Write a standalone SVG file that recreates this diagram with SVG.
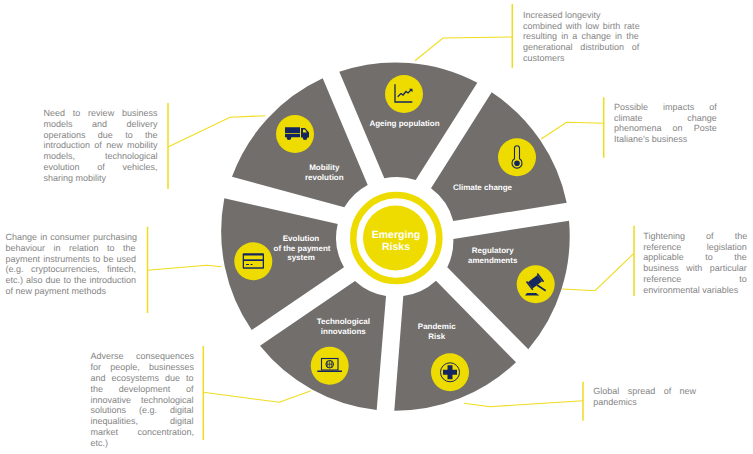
<svg xmlns="http://www.w3.org/2000/svg" width="753" height="454" viewBox="0 0 753 454">
<style>
text{text-rendering:geometricPrecision}
.seg{fill:#716e6c}
.dot{fill:#eedc00}
.lbl{font:bold 8px "Liberation Sans",Arial,sans-serif;fill:#fff;text-anchor:middle}
.t{font:9px "Liberation Sans",Arial,sans-serif;fill:#858585}
.c{fill:none;stroke:#f0dc1e;stroke-width:1.1}
.b{fill:none;stroke:#f0dc1e;stroke-width:1.5}
.n{fill:#14265f}
.ns{fill:none;stroke:#14265f}
</style>
<rect width="753" height="454" fill="#fff"/>
<g id="connectors">
<path class="b" d="M168 103V189M147.500 226.700V313M203.300 346V440M512.300 4V67.700M603.700 97.300V157.700M634 225.700V296M583 381.700V420.700"/>
<path class="c" d="M168.500 146.700L230 117.300L265.700 115.700"/>
<path class="c" d="M147.500 270.300L206.700 265.300L221.700 266.700"/>
<path class="c" d="M203.300 392.300L279.300 402.300L311 390.700"/>
<path class="c" d="M415 60.700L443 38L512 37"/>
<path class="c" d="M541 139L566.700 122.300L603.700 123.300"/>
<path class="c" d="M562 289L595 290.700L634 253.300"/>
<path class="c" d="M464 403.300L490 406.700L583 400.700"/>
</g>
<g id="node-center">
<circle cx="396.300" cy="238" r="43" fill="none" stroke="#eedc00" stroke-width="6.500"/>
<circle cx="395.500" cy="238" r="32.500" fill="#eedc00"/>
<text x="396" y="237.700" font-family="Liberation Sans,Arial,sans-serif" font-weight="bold" font-size="10.500" fill="#fff" text-anchor="middle">Emerging</text>
<text x="396" y="249.500" font-family="Liberation Sans,Arial,sans-serif" font-weight="bold" font-size="10.500" fill="#fff" text-anchor="middle">Risks</text>
</g>
<g id="node-mobility">
<path class="seg" d="M322.700 78.300A175 175 0 0 0 232 176.700L344.300 207.300A59 59 0 0 1 367.700 185Z"/>
<circle class="dot" cx="295" cy="134" r="19"/>
<path class="n" d="M285 127.300H300V137.300H285ZM301 128H305L309 132.500V137.500H301Z"/>
<path fill="#eedc00" d="M285 133.200H300V134H285ZM303 129.500H305L306.800 132.500H303Z"/>
<circle class="n" cx="289" cy="137.700" r="2.300"/><circle class="n" cx="305" cy="137.700" r="2.300"/>
<text class="lbl" x="324.300" y="170">Mobility</text><text class="lbl" x="324.300" y="179.700">revolution</text>
<text class="t" x="43.500" y="116" word-spacing="5.300">Need to review business</text>
<text class="t" x="43.500" y="126.800" word-spacing="17">models and delivery</text>
<text class="t" x="43.500" y="137.600" word-spacing="9.800">operations due to the</text>
<text class="t" x="43.500" y="148.400" word-spacing="1.830">introduction of new mobility</text>
<text class="t" x="43.500" y="159.200" word-spacing="27.500">models, technological</text>
<text class="t" x="43.500" y="170" word-spacing="15.200">evolution of vehicles,</text>
<text class="t" x="43.500" y="180.800">sharing mobility</text>
</g>
<g id="node-ageing">
<path class="seg" d="M339.300 71.700A175 175 0 0 1 477.300 82.700L415.700 180A59 59 0 0 0 384.300 178.300Z"/>
<circle class="dot" cx="404" cy="94" r="19"/>
<path class="ns" stroke-width="1.300" d="M395 84.300V102H412.300"/>
<path class="ns" stroke-width="1.300" d="M397.700 96.700L401 93.500L403 95L406 91.500L408 93L411 90"/>
<path class="n" d="M409 88.800H412.500V92.300Z"/>
<text class="lbl" x="404.500" y="126">Ageing population</text>
<text class="t" x="523" y="17.700">Increased longevity</text>
<text class="t" x="523" y="28.500" word-spacing="1.270">combined with low birth rate</text>
<text class="t" x="523" y="39.300" word-spacing="1.630">resulting in a change in the</text>
<text class="t" x="523" y="50.100" word-spacing="5.330">generational distribution of</text>
<text class="t" x="523" y="60.900">customers</text>
</g>
<g id="node-climate">
<path class="seg" d="M491.700 92.300A175 175 0 0 1 566.700 202.700L453.300 221A59 59 0 0 0 431 188.300Z"/>
<circle class="dot" cx="517" cy="157.300" r="19"/>
<path class="ns" stroke-width="1.100" d="M514.500 158.800V148.200A2.500 2.500 0 0 1 519.500 148.200V158.800A5 5 0 1 1 514.500 158.800Z"/>
<circle class="n" cx="517" cy="163.300" r="2.800"/>
<text class="lbl" x="482.500" y="190">Climate change</text>
<text class="t" x="614" y="109.700" word-spacing="12.600">Possible impacts of</text>
<text class="t" x="614" y="120.500" word-spacing="42.200">climate change</text>
<text class="t" x="614" y="131.300" word-spacing="8.570">phenomena on Poste</text>
<text class="t" x="614" y="142.100">Italiane's business</text>
</g>
<g id="node-regulatory">
<path class="seg" d="M569 220.700A175 175 0 0 1 528.300 349.300L447.300 267.300A59 59 0 0 0 453.300 239Z"/>
<circle class="dot" cx="535.700" cy="284.300" r="19"/>
<g transform="rotate(-37 535 281.700)">
<rect class="n" x="529" y="277.800" width="12" height="7.800"/>
<rect class="n" x="527.500" y="276.500" width="1.600" height="10.400"/>
<rect class="n" x="541" y="276.500" width="1.600" height="10.400"/>
</g>
<path class="ns" stroke-width="1.800" d="M537 285L545.700 290.700"/>
<path class="n" d="M525 295.500L527 293H536L539.300 295.500Z"/>
<text class="lbl" x="492.700" y="253.300">Regulatory</text><text class="lbl" x="492.700" y="263">amendments</text>
<text class="t" x="643.300" y="238.700" word-spacing="18.600">Tightening of the</text>
<text class="t" x="643.300" y="249.500" word-spacing="22.900">reference legislation</text>
<text class="t" x="643.300" y="260.300" word-spacing="18.900">applicable to the</text>
<text class="t" x="643.300" y="271.100" word-spacing="4.950">business with particular</text>
<text class="t" x="643.300" y="281.900" word-spacing="55.400">reference to</text>
<text class="t" x="643.300" y="292.700">environmental variables</text>
</g>
<g id="node-pandemic">
<path class="seg" d="M516 362.300A175 175 0 0 1 394.300 410.700L403.300 296A59 59 0 0 0 436 280.700Z"/>
<circle class="dot" cx="450" cy="372.300" r="19"/>
<circle class="ns" cx="450" cy="372.300" r="9.500" stroke-width="1"/>
<path class="n" d="M447.500 365.300H452.500V369.800H457V374.800H452.500V379.300H447.500V374.800H443V369.800H447.500Z"/>
<text class="lbl" x="436.700" y="328.700">Pandemic</text><text class="lbl" x="436.700" y="338.700">Risk</text>
<text class="t" x="593.300" y="394.300" word-spacing="5.900">Global spread of new</text>
<text class="t" x="593.300" y="405">pandemics</text>
</g>
<g id="node-technological">
<path class="seg" d="M355 281A59 59 0 0 0 386 296L376.700 410A175 175 0 0 1 260 345.700Z"/>
<circle class="dot" cx="329.700" cy="365.700" r="19"/>
<rect class="ns" x="321.500" y="358.500" width="16.500" height="11.500" stroke-width="1.100"/>
<path class="n" d="M317.300 370.500H342V372H317.300Z"/>
<circle class="ns" cx="329.700" cy="364.200" r="3.800" stroke-width="1"/>
<path class="ns" stroke-width=".7" d="M325.900 364.200H333.500M329.700 360.400V368M327.700 361V367.400M331.700 361V367.400"/>
<text class="lbl" x="343.300" y="324.300">Technological</text><text class="lbl" x="343.300" y="334">innovations</text>
<text class="t" x="90.500" y="359.300" word-spacing="10">Adverse consequences</text>
<text class="t" x="90.500" y="370.100" word-spacing="6.750">for people, businesses</text>
<text class="t" x="90.500" y="380.900" word-spacing="3.490">and ecosystems due to</text>
<text class="t" x="90.500" y="391.700" word-spacing="13.200">the development of</text>
<text class="t" x="90.500" y="402.500" word-spacing="7.500">innovative technological</text>
<text class="t" x="90.500" y="413.300" word-spacing="10.500">solutions (e.g. digital</text>
<text class="t" x="90.500" y="424.100" word-spacing="29.500">inequalities, digital</text>
<text class="t" x="90.500" y="434.900" word-spacing="17">market concentration,</text>
<text class="t" x="90.500" y="445.700">etc.)</text>
</g>
<g id="node-payment">
<path class="seg" d="M224.300 198.300A175 175 0 0 0 251.700 330L344 267.300A59 59 0 0 1 337.700 224Z"/>
<circle class="dot" cx="253.300" cy="261.300" r="19"/>
<rect class="n" x="242.700" y="253.300" width="21.300" height="15.400" rx="1"/>
<rect class="dot" x="244" y="255.500" width="18.700" height="3.800"/>
<rect class="dot" x="244" y="261" width="18.700" height="6.300"/>
<path class="ns" stroke-width="1" d="M246 264.500H249M250.500 264.500H252.500"/>
<text class="lbl" x="301" y="241">Evolution</text><text class="lbl" x="302" y="250.700">of the payment</text><text class="lbl" x="301" y="260">system</text>
<text class="t" x="5.500" y="240" word-spacing=".62">Change in consumer purchasing</text>
<text class="t" x="5.500" y="250.800" word-spacing="5.990">behaviour in relation to the</text>
<text class="t" x="5.500" y="261.600" word-spacing=".61">payment instruments to be used</text>
<text class="t" x="5.500" y="272.400" word-spacing="5">(e.g. cryptocurrencies, fintech,</text>
<text class="t" x="5.500" y="283.200" word-spacing=".49">etc.) also due to the introduction</text>
<text class="t" x="5.500" y="294">of new payment methods</text>
</g>
</svg>
